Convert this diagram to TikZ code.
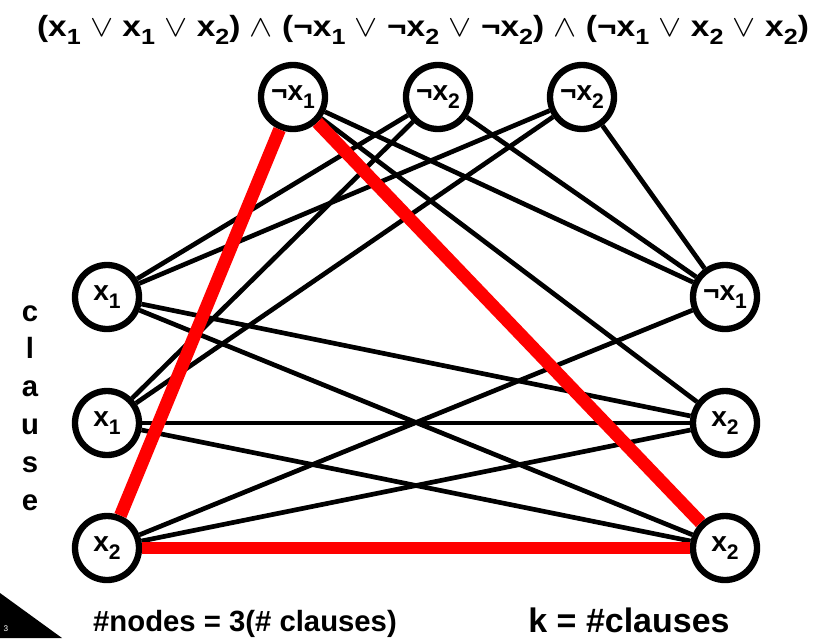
\documentclass[tikz,border=0pt]{standalone}
\usepackage{fontspec}
\usepackage{graphicx}
\setmainfont{Liberation Sans}
\newcommand{\sub}[1]{\raisebox{-0.3em}{\scalebox{0.75}{#1}}}
\newcommand{\lit}[2]{x\sub{#2}}
\newcommand{\nlit}[1]{\textlnot x\sub{#1}}
\begin{document}
\begin{tikzpicture}
        [x=0.03cm,y=-0.03cm,every node/.style={font=\bfseries\fontsize{24}{28}\selectfont},
         lit/.style={draw, circle, line width=5.4pt, inner sep = 0pt, minimum size = 1.92cm},
         edge/.style={line width=4pt},
         pick/.style={line width=11pt, red}]
      \useasboundingbox (0,0) rectangle (819,638);

      % clauses as node triples
      \node[lit] (t1) at (293,97) {\nlit{1}};
      \node[lit] (t2) at (438,97) {\nlit{2}};
      \node[lit] (t3) at (582,97) {\nlit{2}};
      \node[lit] (l1) at (107,297) {\lit{x}{1}};
      \node[lit] (l2) at (107,423) {\lit{x}{1}};
      \node[lit] (l3) at (107,548) {\lit{x}{2}};
      \node[lit] (r1) at (725,297) {\nlit{1}};
      \node[lit] (r2) at (725,423) {\lit{x}{2}};
      \node[lit] (r3) at (725,548) {\lit{x}{2}};

      \begin{scope}[on background layer/.try]
      \foreach \from/\to in {l1/t2, l1/t3, l2/t2, l2/t3, l1/r2, l1/r3, l2/r2, l2/r3,
                             l3/r1, l3/r2, t1/r1, t1/r2, t2/r1, t3/r1}
        \draw[edge] (\from) -- (\to);
      \foreach \from/\to in {l3/t1, l3/r3, t1/r3}
        \draw[pick] (\from) -- (\to);
      \end{scope}

      % formula and notes
      \node (formula) at (423,30)
        {\scalebox{1.19}[1.04]{(\lit{x}{1} $\vee$ \lit{x}{1} $\vee$ \lit{x}{2}) $\wedge$ (\nlit{1} $\vee$ \nlit{2} $\vee$ \nlit{2}) $\wedge$ (\nlit{1} $\vee$ \lit{x}{2} $\vee$ \lit{x}{2})}};
      \node[align=center, font=\bfseries\fontsize{25}{32.3}\selectfont] (clause) at (30,408)
        {c\\l\\a\\u\\s\\e};
      \node[font=\bfseries\fontsize{25}{30}\selectfont] (nodes) at (245,624) {\#nodes = 3(\# clauses)};
      \node[font=\bfseries\fontsize{29}{34}\selectfont] (k) at (629,620) {k = \#clauses};

      % slide corner
      \fill (0,593) -- (62,638) -- (0,638) -- cycle;
      \node[white, font=\fontsize{7}{8}\selectfont] (page) at (6,629) {3};
    \end{tikzpicture}
\end{document}
